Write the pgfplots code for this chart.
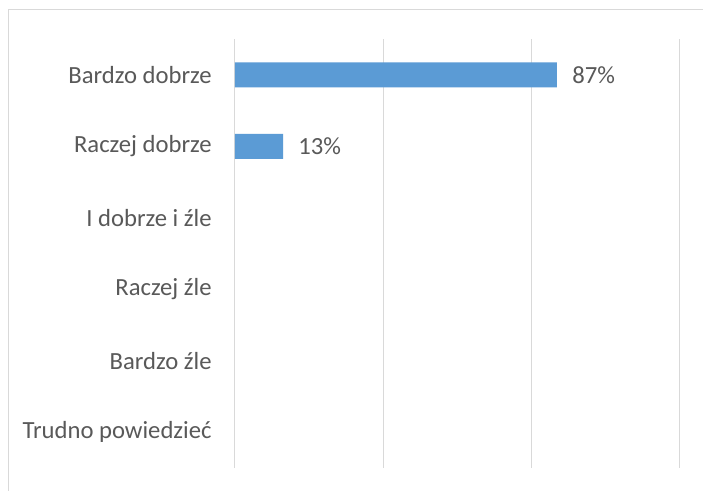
\documentclass[border=0pt]{standalone}
\usepackage{pgfplots}
\pgfplotsset{compat=1.18}
\usepackage{fontspec}
\setmainfont{Carlito}
\definecolor{barblue}{HTML}{5B9BD5}
\definecolor{gridgray}{HTML}{D9D9D9}
\definecolor{txtgray}{HTML}{595959}
\begin{document}
\begin{tikzpicture}
\useasboundingbox (0,0) rectangle (527.25pt,367.5pt);
\fill[white] (0,0) rectangle (527.25pt,367.5pt);
\draw[gridgray, line width=0.75pt] (6pt,-2pt) -- (6pt,360pt) -- (530pt,360pt);
\begin{axis}[
  at={(176.25pt,16.5pt)}, anchor=south west,
  width=333pt, height=321.75pt, scale only axis,
  xbar, bar width=18.75pt,
  xmin=0, xmax=120,
  ymin=-0.5, ymax=5.5, y dir=reverse,
  ytick={0,1,2,3,4,5},
  yticklabels={Bardzo dobrze, Raczej dobrze, I dobrze i źle, Raczej źle, Bardzo źle, Trudno powiedzieć},
  xtick={0,40,80,120}, xticklabels={},
  xmajorgrids, grid style={gridgray, line width=0.75pt},
  axis line style={draw=none},
  major tick length=0pt,
  tick label style={font=\fontsize{18.5}{21}\selectfont, text=txtgray},
  yticklabel style={xshift=-14pt},
  /pgf/number format/assume math mode=true,
  point meta=x,
  nodes near coords={\pgfmathprintnumber{\pgfplotspointmeta}\%},
  nodes near coords style={font=\fontsize{18.5}{21}\selectfont, text=txtgray, anchor=west, xshift=8pt},
]
\addplot[fill=barblue, draw=none] coordinates {(87,0) (13,1)};
\end{axis}
\end{tikzpicture}
\end{document}
